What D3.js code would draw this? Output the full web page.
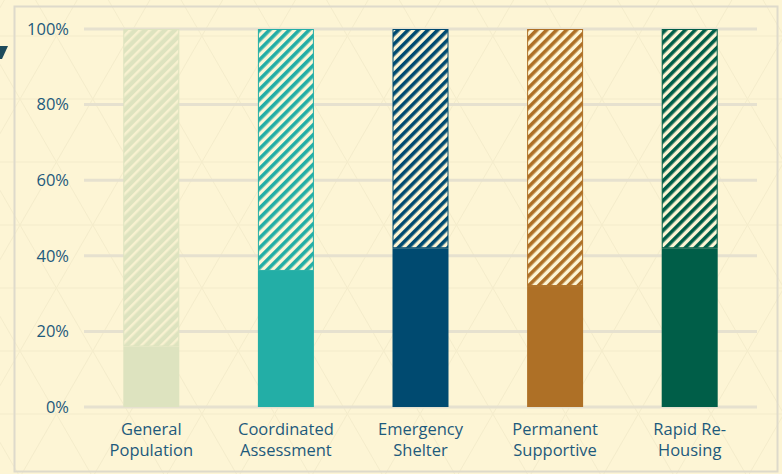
<!DOCTYPE html>
<html>
<head>
<meta charset="utf-8">
<script src="https://cdn.jsdelivr.net/npm/d3@7"></script>
<style>
  html, body { margin: 0; padding: 0; background: #fdf5d5; }
  svg { display: block; }
</style>
</head>
<body>
<svg id="chart" width="782" height="474"></svg>
<script>
// Program categories (two-line labels) and share of each group in the solid segment
const categories = ["General Population", "Coordinated Assessment", "Emergency Shelter", "Permanent Supportive", "Rapid Re-Housing"];
const labelLines = [["General", "Population"], ["Coordinated", "Assessment"], ["Emergency", "Shelter"], ["Permanent", "Supportive"], ["Rapid Re-", "Housing"]];
const solidShare = [16, 36, 42, 32, 42];
const barColors = ["#dde3bf", "#23aea6", "#004a70", "#ae7026", "#005e48"];
const yTicks = [0, 20, 40, 60, 80, 100];

const W = 782, H = 474;
const svg = d3.select("#chart");
const bg = "#fdf5d5";
const textColor = "#1d5a7c";

svg.append("rect").attr("width", W).attr("height", H).attr("fill", bg);

// Faint triangular lattice in the background
const lattice = svg.append("g").attr("stroke", "#f1e9c8").attr("stroke-width", 1).attr("fill", "none").attr("opacity", 0.7);
const rowH = 63, triW = rowH * 2 / Math.sqrt(3);
for (let y = -rowH; y < H + rowH; y += rowH) {
  lattice.append("line").attr("x1", 0).attr("x2", W).attr("y1", y + 36).attr("y2", y + 36);
}
for (let k = -20; k < 30; k++) {
  const x0 = k * triW + 20;
  lattice.append("line").attr("x1", x0).attr("y1", -27).attr("x2", x0 + (H + 60) / Math.sqrt(3)).attr("y2", H + 33);
  lattice.append("line").attr("x1", x0).attr("y1", -27).attr("x2", x0 - (H + 60) / Math.sqrt(3)).attr("y2", H + 33);
}

// Panel frame
svg.append("rect").attr("x", 14.5).attr("y", 6.5).attr("width", 763).attr("height", 465)
  .attr("fill", "none").attr("stroke", "#dedacb").attr("stroke-width", 2);

// Small dark mark at the left edge
svg.append("path").attr("d", "M0,46 L8,46 L2,59 L0,59 Z").attr("fill", "#1e4b5c");

const x = d3.scaleBand().domain(categories).range([84, 757]).paddingInner(0.584).paddingOuter(0.292);
const y = d3.scaleLinear().domain([0, 100]).range([407, 29]);

// Gridlines
svg.append("g").selectAll("line").data(yTicks).join("line")
  .attr("x1", 84).attr("x2", 757)
  .attr("y1", d => y(d)).attr("y2", d => y(d))
  .attr("stroke", "#e6e1cf").attr("stroke-width", 3);

// Y axis labels
const yAxis = d3.axisLeft(y).tickValues(yTicks).tickFormat(d => d + "%").tickSize(0).tickPadding(0);
const yG = svg.append("g").attr("transform", "translate(69,0)").call(yAxis);
yG.select(".domain").remove();
yG.selectAll("text").attr("fill", textColor).attr("font-family", "'Open Sans', sans-serif").attr("font-size", 16.5);

// Diagonal hatch patterns, one per bar colour
const defs = svg.append("defs");
barColors.forEach((c, i) => {
  const p = defs.append("pattern").attr("id", "hatch" + i).attr("patternUnits", "userSpaceOnUse")
    .attr("width", 7).attr("height", 7).attr("patternTransform", "rotate(45)");
  const light = i === 0;
  p.append("rect").attr("width", 7).attr("height", 7).attr("fill", light ? "#dde3bf" : bg);
  p.append("rect").attr("width", light ? 2.5 : 3.6).attr("height", 7).attr("fill", light ? "#f8f1d0" : c);
});

const bars = svg.append("g");
categories.forEach((cat, i) => {
  const x0 = x(cat), bw = x.bandwidth();
  // hatched remainder up to 100%
  bars.append("rect").attr("x", x0 + 0.5).attr("y", y(100) + 0.5).attr("width", bw - 1)
    .attr("height", y(solidShare[i]) - y(100) - 1)
    .attr("fill", `url(#hatch${i})`).attr("stroke", barColors[i]).attr("stroke-width", 1);
  // solid share
  bars.append("rect").attr("x", x0).attr("y", y(solidShare[i])).attr("width", bw)
    .attr("height", y(0) - y(solidShare[i])).attr("fill", barColors[i]);
});

// Category labels
const xl = svg.append("g");
categories.forEach((cat, i) => {
  const t = xl.append("text").attr("x", x(cat) + x.bandwidth() / 2).attr("y", 435)
    .attr("text-anchor", "middle").attr("fill", textColor)
    .attr("font-family", "'Open Sans', sans-serif").attr("font-size", 16.5);
  labelLines[i].forEach((ln, j) => {
    t.append("tspan").attr("x", x(cat) + x.bandwidth() / 2).attr("dy", j === 0 ? 0 : 21).text(ln);
  });
});
</script>
</body>
</html>
